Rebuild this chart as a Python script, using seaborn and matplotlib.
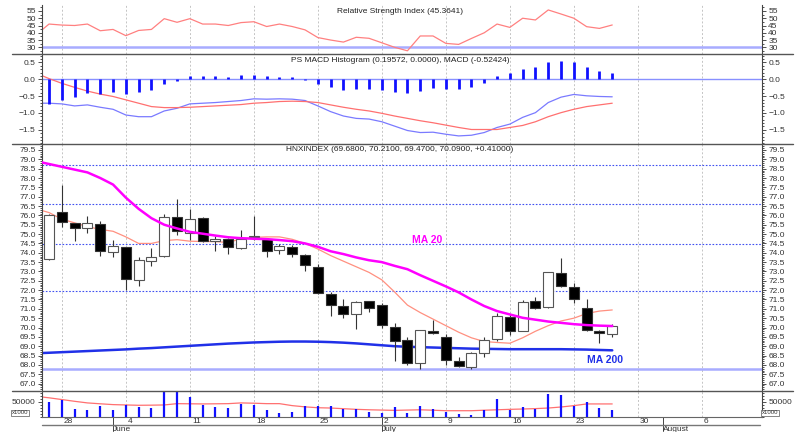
import numpy as np
import pandas as pd
import matplotlib
matplotlib.use("Agg")
import matplotlib.pyplot as plt
import matplotlib.transforms as mtransforms
from matplotlib.lines import Line2D
from matplotlib.ticker import MultipleLocator, FixedLocator
import seaborn as sns

# ---- data (HNXINDEX, 25 May - 26 Jul 2012) ----
open_ = [73.64, 76.18, 75.57, 75.32, 75.54, 74.04, 74.32, 72.54, 73.57, 73.82,
         75.90, 75.07, 75.84, 74.61, 74.75, 74.25, 74.82, 74.75, 74.14, 74.29,
         73.89, 73.25, 71.82, 71.14, 70.75, 71.41, 71.23, 70.04, 69.33, 68.09,
         69.83, 69.51, 68.21, 67.91, 68.62, 69.37, 70.55, 69.83, 71.42, 71.12,
         72.94, 72.19, 71.03, 69.83, 69.68]
close = [76.04, 75.62, 75.32, 75.60, 74.09, 74.36, 72.57, 73.60, 73.79, 75.90,
         75.14, 75.82, 74.64, 74.75, 74.29, 74.75, 74.91, 74.10, 74.36, 73.93,
         73.32, 71.83, 71.18, 70.75, 71.37, 71.07, 70.16, 69.27, 68.12, 69.87,
         69.69, 68.26, 67.94, 68.62, 69.33, 70.62, 69.82, 71.39, 71.07, 72.95,
         72.22, 71.53, 69.87, 69.73, 70.09]
high = [76.10, 77.62, 75.60, 75.96, 75.70, 74.68, 74.32, 73.79, 74.23, 76.07,
        76.87, 76.34, 75.90, 74.90, 74.80, 75.21, 75.95, 74.80, 74.45, 74.40,
        73.96, 73.39, 71.90, 71.52, 71.40, 71.43, 71.30, 70.25, 69.50, 69.87,
        70.40, 69.65, 68.44, 68.70, 69.48, 70.80, 70.75, 71.48, 71.65, 72.98,
        73.70, 72.40, 71.51, 69.85, 70.21]
low = [73.60, 75.40, 74.64, 75.04, 73.82, 73.75, 72.00, 72.22, 73.29, 73.80,
       74.95, 74.68, 74.60, 74.10, 73.96, 74.20, 74.70, 73.79, 73.93, 73.79,
       73.04, 71.80, 70.60, 70.52, 69.90, 70.84, 69.98, 68.20, 68.00, 67.77,
       69.65, 68.00, 67.90, 67.80, 68.41, 69.30, 69.60, 69.80, 71.00, 71.05,
       72.15, 71.33, 69.80, 69.16, 69.47]

# line series start one session earlier (index -1), clipped at the left edge
ma20 = [78.90, 78.75, 78.60, 78.45, 78.30, 78.00, 77.65, 76.95, 76.35, 75.85,
        75.50, 75.30, 75.12, 75.02, 74.92, 74.83, 74.78, 74.75, 74.73, 74.68,
        74.62, 74.50, 74.32, 74.08, 73.93, 73.75, 73.60, 73.50, 73.30, 73.12,
        72.80, 72.50, 72.20, 71.88, 71.50, 71.15, 70.88, 70.70, 70.52, 70.42,
        70.32, 70.25, 70.18, 70.13, 70.10, 70.08]
ma10 = [76.35, 76.15, 75.80, 75.60, 75.40, 75.25, 75.15, 74.85, 74.50, 74.50,
        74.65, 74.70, 74.62, 74.60, 74.60, 74.55, 74.75, 74.82, 74.85, 74.85,
        74.72, 74.50, 74.20, 73.85, 73.55, 73.25, 72.95, 72.55, 71.90, 71.20,
        70.80, 70.45, 70.10, 69.75, 69.45, 69.25, 69.20, 69.16, 69.45, 69.80,
        70.10, 70.35, 70.50, 70.75, 70.88, 70.94]
ma200 = [68.62, 68.65, 68.68, 68.71, 68.74, 68.77, 68.80, 68.83, 68.87, 68.90,
         68.94, 68.98, 69.02, 69.06, 69.10, 69.14, 69.17, 69.20, 69.22, 69.24,
         69.25, 69.25, 69.24, 69.22, 69.19, 69.15, 69.10, 69.05, 69.00, 68.97,
         68.95, 68.93, 68.91, 68.89, 68.87, 68.86, 68.85, 68.84, 68.84, 68.84,
         68.84, 68.84, 68.83, 68.82, 68.80, 68.78]
rsi = [38.7, 46.0, 45.3, 45.0, 46.0, 41.4, 42.3, 38.0, 41.6, 42.3, 49.7,
       47.2, 49.7, 46.0, 46.0, 45.0, 47.0, 47.6, 44.3, 46.0, 44.3,
       42.0, 36.7, 35.0, 33.6, 36.9, 36.2, 33.1, 30.0, 27.6, 37.8,
       37.8, 32.7, 32.0, 36.1, 40.0, 46.0, 43.7, 50.0, 48.8, 55.7,
       52.9, 50.0, 44.2, 43.0, 45.36]
macd = [-0.71, -0.71, -0.73, -0.79, -0.76, -0.83, -0.89, -1.06, -1.11, -1.11, -0.94,
        -0.86, -0.73, -0.71, -0.69, -0.66, -0.63, -0.58, -0.59, -0.58, -0.59,
        -0.63, -0.79, -0.96, -1.09, -1.16, -1.18, -1.26, -1.39, -1.52, -1.58,
        -1.57, -1.63, -1.68, -1.66, -1.58, -1.43, -1.33, -1.13, -0.99, -0.69,
        -0.53, -0.45, -0.49, -0.51, -0.52]
signal = [0.18, 0.02, -0.12, -0.24, -0.35, -0.44, -0.51, -0.61, -0.71, -0.81, -0.84,
          -0.84, -0.83, -0.81, -0.79, -0.77, -0.75, -0.71, -0.69, -0.66, -0.65,
          -0.66, -0.69, -0.76, -0.83, -0.89, -0.94, -1.01, -1.09, -1.16, -1.23,
          -1.29, -1.36, -1.43, -1.49, -1.49, -1.49, -1.43, -1.37, -1.26, -1.11,
          -0.99, -0.89, -0.81, -0.76, -0.71]
macd_hist = [-0.74, -0.61, -0.54, -0.42, -0.44, -0.39, -0.45, -0.39, -0.32, -0.14,
             -0.04, 0.10, 0.10, 0.09, 0.08, 0.12, 0.13, 0.10, 0.08, 0.07,
             -0.01, -0.14, -0.24, -0.32, -0.30, -0.28, -0.32, -0.38, -0.42, -0.34,
             -0.27, -0.29, -0.28, -0.22, -0.10, 0.10, 0.18, 0.30, 0.36, 0.51,
             0.54, 0.50, 0.36, 0.26, 0.20]
volume = [50000, 58000, 25600, 23000, 35000, 23000, 40700, 31400, 29000, 87000,
          83700, 67400, 40700, 32500, 29000, 44000, 40700, 23000, 11600, 14000,
          35000, 35000, 35000, 25600, 25600, 14000, 11600, 32500, 11600, 35000,
          25600, 14000, 8100, 5800, 23000, 61600, 23000, 32500, 26700, 78000,
          72000, 35000, 50000, 29000, 23000]
vol_ma = [69000, 64000, 58000, 52000, 46500, 43500, 40700, 39500, 38400, 38800, 39500,
          44000, 43500, 43000, 43500, 44000, 46500, 45500, 44000, 44000, 37200,
          33000, 30000, 29000, 26700, 24500, 23000, 22000, 21000, 22000, 23000,
          21500, 19800, 19800, 19800, 21500, 23000, 24500, 25600, 27000, 29000,
          32500, 37200, 43000, 43000, 43000, 43000][:46]
levels_dotted = [78.7, 76.6, 74.45, 71.95]
level_solid = 67.8

# ---- layout ----
sns.set_style("white")
plt.rcParams["font.family"] = ["Liberation Sans", "DejaVu Sans"]

W, H = 796, 432
n = len(close)
x = np.arange(n)
xl = np.arange(-1, n)
days = pd.bdate_range("2012-05-25", periods=56)
mondays = [i for i, d in enumerate(days) if d.weekday() == 0]
month_starts = [i for i in range(1, len(days)) if days[i].month != days[i - 1].month]
XLIM = (-0.55, 55.7)


def rect(top, bottom, left=42, right=762):
    return [left / W, 1 - bottom / H, (right - left) / W, (bottom - top) / H]


fig = plt.figure(figsize=(7.96, 4.32), dpi=100)
ax_rsi = fig.add_axes(rect(5, 54))
ax_macd = fig.add_axes(rect(54, 144))
ax_px = fig.add_axes(rect(144, 390.5))
ax_vol = fig.add_axes(rect(390.5, 416.5))

for ax in (ax_rsi, ax_macd, ax_px, ax_vol):
    ax.set_xlim(*XLIM)
    for s in ("top", "bottom"):
        ax.spines[s].set_visible(False)
    for s in ("left", "right"):
        ax.spines[s].set_color("#444")
        ax.spines[s].set_linewidth(0.8)
    ax.tick_params(axis="y", which="both", left=True, right=True,
                   labelleft=True, labelright=True, direction="out",
                   colors="#333", labelsize=6, width=0.6, pad=1.5)
    ax.tick_params(axis="y", which="major", length=3)
    ax.tick_params(axis="y", which="minor", length=1.5)
    for m in mondays:
        ax.axvline(m, color="#c4c4c4", lw=0.7, ls=(0, (2, 2)), zorder=0)
    ax.set_xlabel("")
    ax.set_ylabel("")

for ax in (ax_rsi, ax_macd, ax_px):
    ax.set_xticks([])

# RSI
ax_rsi.axhline(30, color="#a8acff", lw=1.8, zorder=1)
sns.lineplot(x=xl, y=rsi, ax=ax_rsi, color="#ff8080", lw=0.9, sort=False)
ax_rsi.set_ylim(25.4, 59.1)
ax_rsi.yaxis.set_major_locator(FixedLocator([30, 35, 40, 45, 50, 55]))
ax_rsi.yaxis.set_minor_locator(MultipleLocator(2.5))
ax_rsi.text(0.497, 0.877, "Relative Strength Index (45.3641)", transform=ax_rsi.transAxes,
            ha="center", va="center", fontsize=6, color="#222")

# MACD
ax_macd.axhline(0, color="#8890ff", lw=1.0, zorder=1)
ax_macd.vlines(x, 0, macd_hist, color="#1010ff", lw=2.0, zorder=3)
sns.lineplot(x=xl, y=macd, ax=ax_macd, color="#7a7aff", lw=0.9, sort=False)
sns.lineplot(x=xl, y=signal, ax=ax_macd, color="#ff7070", lw=0.9, sort=False)
ax_macd.set_ylim(-1.92, 0.75)
ax_macd.yaxis.set_major_locator(FixedLocator([-1.5, -1.0, -0.5, 0.0, 0.5]))
ax_macd.yaxis.set_minor_locator(MultipleLocator(0.1))
ax_macd.text(0.497, 0.933, "PS MACD Histogram (0.19572, 0.0000), MACD (-0.52424)",
             transform=ax_macd.transAxes, ha="center", va="center", fontsize=6, color="#222")

# Price
for lv in levels_dotted:
    ax_px.axhline(lv, color="#4050f0", lw=0.8, ls=(0, (1.5, 1.5)), zorder=1)
ax_px.axhline(level_solid, color="#a8acff", lw=1.8, zorder=1)
sns.lineplot(x=xl, y=ma10, ax=ax_px, color="#ff9080", lw=0.9, sort=False, zorder=2)
sns.lineplot(x=xl, y=ma200, ax=ax_px, color="#2030e8", lw=1.8, sort=False, zorder=2)
o = np.array(open_); c = np.array(close)
up = c >= o
ax_px.vlines(x, low, high, color="#333", lw=0.8, zorder=3)
ax_px.bar(x[up], (c - o)[up], bottom=o[up], width=0.78, color="white",
          edgecolor="#555", lw=0.8, zorder=4)
ax_px.bar(x[~up], (o - c)[~up], bottom=c[~up], width=0.78, color="black",
          edgecolor="#333", lw=0.8, zorder=4)
sns.lineplot(x=xl, y=ma20, ax=ax_px, color="#ff00ff", lw=1.8, sort=False, zorder=5)
ax_px.set_ylim(66.63, 79.82)
ax_px.yaxis.set_major_locator(MultipleLocator(0.5))
ax_px.yaxis.set_minor_locator(MultipleLocator(0.1))
ax_px.yaxis.set_major_formatter(matplotlib.ticker.FormatStrFormatter("%.1f"))
ax_px.set_yticks([v for v in np.arange(67.0, 79.51, 0.5)])
ax_px.text(0.497, 0.976, "HNXINDEX (69.6800, 70.2100, 69.4700, 70.0900, +0.41000)",
           transform=ax_px.transAxes, ha="center", va="center", fontsize=6, color="#222")
ax_px.text(29.5, 74.68, "MA 20", color="#ff00ff", fontsize=7.5, fontweight="bold",
           ha="center", va="center")
ax_px.text(43.4, 68.26, "MA 200", color="#2030e8", fontsize=7.5, fontweight="bold",
           ha="center", va="center")

# Volume
ax_vol.vlines(x, 0, volume, color="#1010ff", lw=1.6, zorder=3)
sns.lineplot(x=xl, y=vol_ma, ax=ax_vol, color="#ff7070", lw=0.9, sort=False)
ax_vol.set_ylim(0, 89000)
ax_vol.yaxis.set_major_locator(FixedLocator([50000]))
ax_vol.yaxis.set_minor_locator(MultipleLocator(10000))
ax_vol.spines["bottom"].set_visible(True)
ax_vol.spines["bottom"].set_color("#666")
ax_vol.set_xticks(mondays)
ax_vol.set_xticklabels([])
ax_vol.set_xticks(range(len(days)), minor=True)
ax_vol.tick_params(axis="x", which="major", length=6, width=0.7, colors="#444", direction="out")
ax_vol.tick_params(axis="x", which="minor", length=2, width=0.6, colors="#444", direction="out")
blend = mtransforms.blended_transform_factory(ax_vol.transData, ax_vol.transAxes)
for m in mondays:
    ax_vol.annotate(str(days[m].day), xy=(m, 0), xycoords=blend, xytext=(1.5, -3.6),
                    textcoords="offset points", ha="left", va="center", fontsize=6, color="#333")
for m in month_starts:
    ax_vol.add_line(Line2D([m, m], [0, -0.56], transform=blend, color="#444", lw=0.7, clip_on=False))
    ax_vol.annotate(days[m].strftime("%B"), xy=(m, 0), xycoords=blend, xytext=(0, -9.6),
                    textcoords="offset points", ha="left", va="center", fontsize=6, color="#333")
for xx, ha in ((12, "left"), (762, "left")):
    fig.text(xx / W, 1 - 413 / H, "x1000", fontsize=4.3, color="#333", ha=ha, va="center",
             bbox=dict(boxstyle="square,pad=0.15", fc="white", ec="#555", lw=0.5))

# panel separators and bottom frame line
for yy, x0, x1, col in ((54, 12, 793, "#555"), (144, 12, 793, "#555"),
                        (390.5, 12, 793, "#555"), (425.3, 42, 760, "#777")):
    fig.add_artist(Line2D([x0 / W, x1 / W], [1 - yy / H, 1 - yy / H], color=col, lw=1.0))

fig.savefig("out.png", dpi=100)
